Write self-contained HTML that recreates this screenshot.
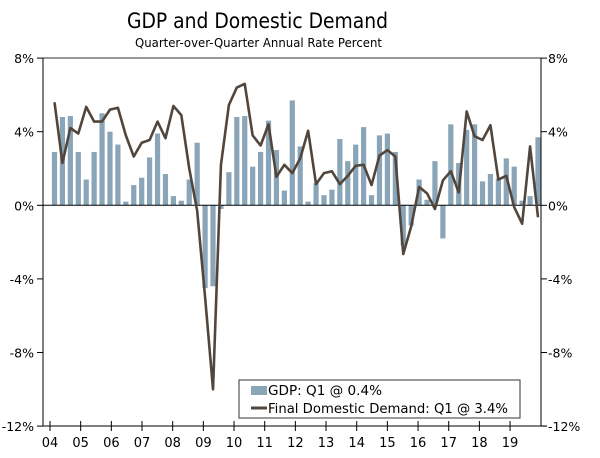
<!DOCTYPE html>
<html><head><meta charset="utf-8"><style>
body{margin:0;background:#fff;width:600px;height:454px;overflow:hidden;font-family:"DejaVu Sans","Liberation Sans",sans-serif}
</style></head><body>
<svg width="600" height="454" xmlns="http://www.w3.org/2000/svg" font-family="DejaVu Sans, Liberation Sans, sans-serif">
<text x="127" y="28" font-size="21" textLength="261" lengthAdjust="spacingAndGlyphs" fill="#000">GDP and Domestic Demand</text>
<text x="135" y="47" font-size="12.5" textLength="247" lengthAdjust="spacingAndGlyphs" fill="#000">Quarter-over-Quarter Annual Rate Percent</text>
<g id="plot"></g>
</svg>
<script>
const gdp=[2.9,4.8,4.85,2.9,1.4,2.9,5.0,4.0,3.3,0.2,1.1,1.5,2.6,3.9,1.7,0.5,0.25,1.4,3.4,-4.5,-4.4,-0.2,1.8,4.8,4.85,2.1,2.9,4.6,3.0,0.8,5.7,3.2,0.2,1.2,0.55,0.85,3.6,2.4,3.3,4.25,0.55,3.8,3.9,2.9,-2.2,-1.1,1.4,0.3,2.4,-1.8,4.4,2.3,4.1,4.4,1.3,1.7,1.45,2.55,2.1,0.25,0.5,3.7];
const fdd=[5.6,2.3,4.2,3.9,5.35,4.55,4.55,5.2,5.3,3.8,2.65,3.4,3.55,4.55,3.65,5.4,4.9,2.0,-0.3,-5.0,-10.0,2.2,5.45,6.4,6.6,3.8,3.25,4.4,1.55,2.2,1.75,2.55,4.05,1.15,1.75,1.85,1.15,1.6,2.15,2.2,1.1,2.7,3.0,2.65,-2.65,-1.15,1.0,0.65,-0.2,1.35,1.85,0.7,5.1,3.75,3.55,4.35,1.4,1.6,-0.1,-1.0,3.2,-0.65];
const yTicks=[8,4,0,-4,-8,-12];
const yearLabels=["04","05","06","07","08","09","10","11","12","13","14","15","16","17","18","19"];
const NS="http://www.w3.org/2000/svg";
const g=document.getElementById('plot');
const L=43,R=541,T=58,B=426;
const y=v=>205.3-v*18.4;
const x=i=>54.5+i*(538-54.5)/61;
function mk(t,a){const e=document.createElementNS(NS,t);for(const k in a)e.setAttribute(k,a[k]);g.appendChild(e);return e;}
let e=mk('line',{x1:L,y1:T,x2:R,y2:T,stroke:'#777','stroke-width':1.5});


yTicks.forEach(v=>{
 let t=mk('line',{x1:37,y1:y(v),x2:L,y2:y(v),stroke:'#000'});
 
 
 t=mk('line',{x1:R,y1:y(v),x2:R+6,y2:y(v),stroke:'#000'});
 
 
 let l=mk('text',{x:34,y:y(v)+5,'font-size':12.5,'text-anchor':'end'});l.textContent=v+'%';
 
 
 l=mk('text',{x:548,y:y(v)+5,'font-size':12.5});l.textContent=v+'%';
 
 
});
gdp.forEach((v,i)=>{
 const r=mk('rect',{x:x(i)-2.6,y:Math.min(y(v),y(0)),width:5.2,height:Math.abs(y(v)-y(0)),fill:'#8aa4b8'});
 
 
});
e=mk('line',{x1:L,y1:y(0),x2:R,y2:y(0),stroke:'#000'});


const p=mk('polyline',{points:fdd.map((v,i)=>x(i)+','+y(v)).join(' '),fill:'none',stroke:'#52463c','stroke-width':2.6,'stroke-linejoin':'round'});


e=mk('line',{x1:L,y1:T,x2:L,y2:B,stroke:'#000'});


e=mk('line',{x1:R,y1:T,x2:R,y2:B,stroke:'#000'});


e=mk('line',{x1:L,y1:B,x2:R+6,y2:B,stroke:'#000'});


yearLabels.forEach((s,i)=>{
 const xx=50+i*30.67;
 const t=mk('line',{x1:xx,y1:B-5,x2:xx,y2:B+5,stroke:'#000'});
 
 
 const l=mk('text',{x:xx,y:447,'font-size':13,'text-anchor':'middle'});l.textContent=s;
 
 
});
e=mk('rect',{x:239,y:380,width:281,height:38,fill:'#fff',stroke:'#333'});


e=mk('rect',{x:251,y:386,width:16,height:9,fill:'#8aa4b8'});


e=mk('text',{x:268,y:395,'font-size':13,textLength:114,lengthAdjust:'spacingAndGlyphs'});e.textContent='GDP: Q1 @ 0.4%';


e=mk('line',{x1:251,y1:408,x2:267,y2:408,stroke:'#52463c','stroke-width':3});


e=mk('text',{x:268,y:413,'font-size':13,textLength:240,lengthAdjust:'spacingAndGlyphs'});e.textContent='Final Domestic Demand: Q1 @ 3.4%';


</script>
</body></html>
